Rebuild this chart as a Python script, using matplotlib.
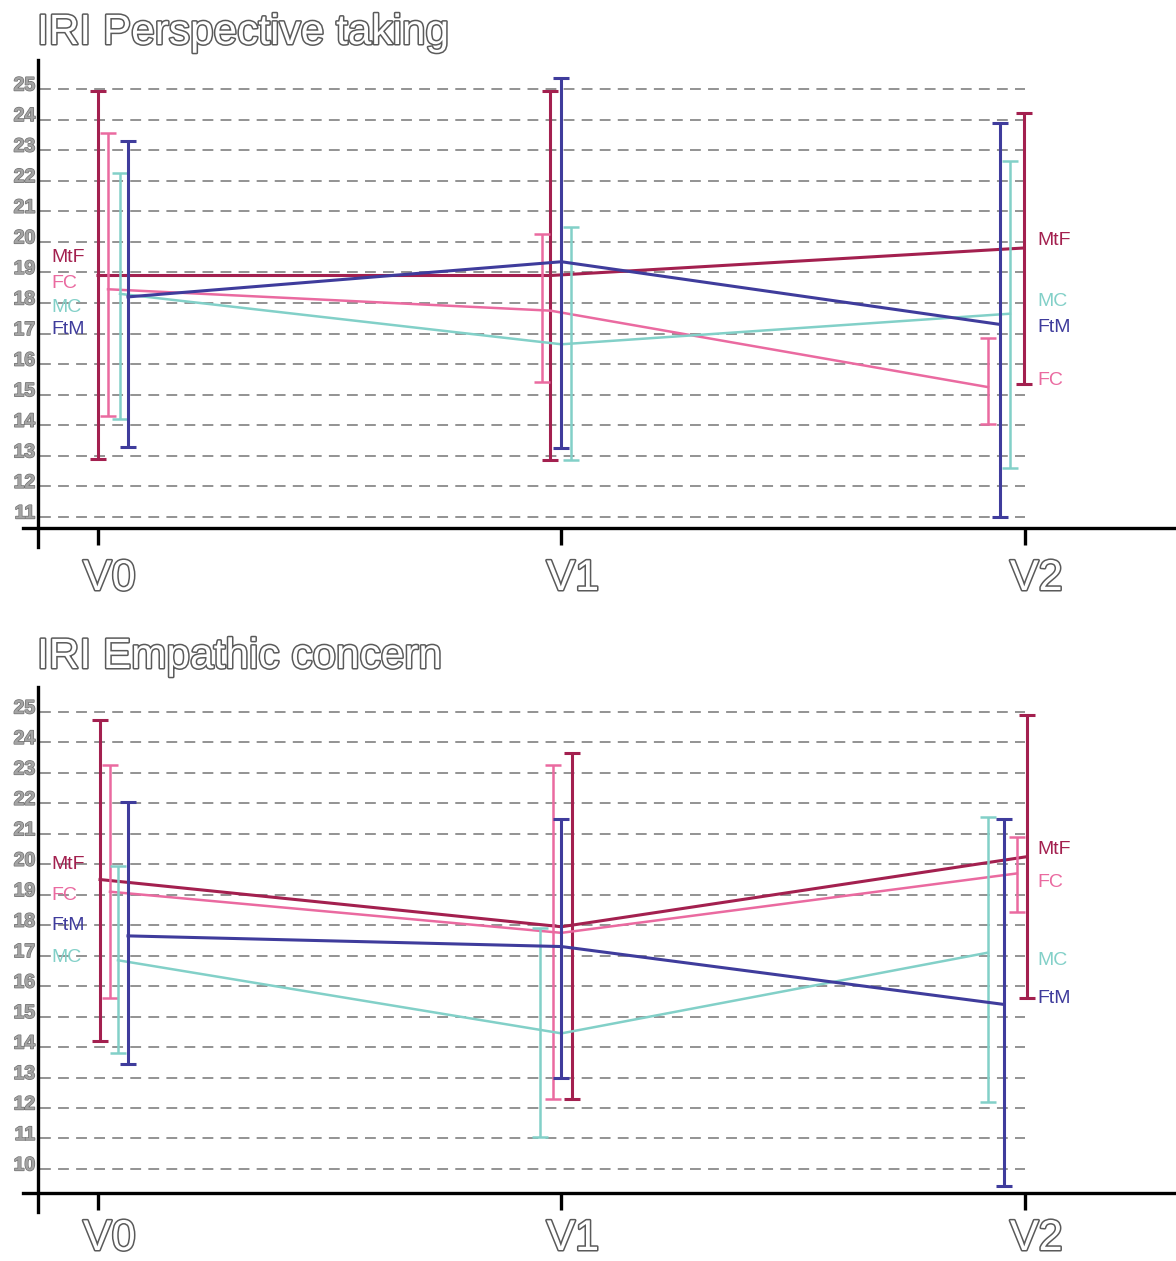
import matplotlib
matplotlib.use("Agg")
import matplotlib.pyplot as plt
import matplotlib.patheffects as pe
import matplotlib.transforms as mtransforms
import numpy as np

plt.rcParams['font.family'] = ['Liberation Sans', 'DejaVu Sans']

# ---- data ----
visits = ['V0', 'V1', 'V2']
groups = ['MtF', 'FC', 'MC', 'FtM']
colors = {'MtF': '#a3204f', 'FC': '#ea6aa0', 'MC': '#82d0c8', 'FtM': '#3f3c9c'}

# IRI Perspective taking
pt_mean = {'MtF': [18.9, 18.9, 19.8], 'FC': [18.45, 17.75, 15.25],
           'MC': [18.3, 16.65, 17.65], 'FtM': [18.2, 19.35, 17.3]}
pt_low = {'MtF': [12.9, 12.85, 15.35], 'FC': [14.3, 15.4, 14.05],
          'MC': [14.2, 12.85, 12.6], 'FtM': [13.3, 13.25, 11.0]}
pt_high = {'MtF': [24.95, 24.95, 24.2], 'FC': [23.55, 20.25, 16.85],
           'MC': [22.25, 20.5, 22.65], 'FtM': [23.3, 25.35, 23.9]}

# IRI Empathic concern
ec_mean = {'MtF': [19.5, 17.95, 20.25], 'FC': [19.1, 17.75, 19.7],
           'MC': [16.85, 14.45, 17.1], 'FtM': [17.65, 17.3, 15.4]}
ec_low = {'MtF': [14.2, 12.3, 15.6], 'FC': [15.6, 12.3, 18.45],
          'MC': [13.8, 11.05, 12.2], 'FtM': [13.45, 13.0, 9.45]}
ec_high = {'MtF': [24.75, 23.65, 24.9], 'FC': [23.25, 23.25, 20.9],
           'MC': [19.95, 17.9, 21.55], 'FtM': [22.05, 21.5, 21.5]}

pt_ticks = list(range(11, 26))
ec_ticks = list(range(10, 26))

# ---- layout (pixel dodges per visit, label positions) ----
PX = 1 / 463.5   # data units per pixel on x
pt_bar_dx = {'MtF': [0, -11, -1], 'FC': [10, -19, -37], 'MC': [22, 10, -15], 'FtM': [30, 0, -25]}
pt_line_dx = {'MtF': [0, -11, -1], 'FC': [10, -11, -37], 'MC': [22, 0, -15], 'FtM': [30, 0, -25]}
ec_bar_dx = {'MtF': [2, 11, 2], 'FC': [12, -8, -8], 'MC': [20, -21, -37], 'FtM': [30, 0, -21]}
ec_line_dx = {'MtF': [2, 0, 2], 'FC': [12, 0, -8], 'MC': [20, 0, -37], 'FtM': [30, 0, -21]}

pt_left_lab = {'MtF': 19.5, 'FC': 18.65, 'MC': 17.85, 'FtM': 17.13}
pt_right_lab = {'MtF': 20.05, 'MC': 18.05, 'FtM': 17.2, 'FC': 15.47}
ec_left_lab = {'MtF': 19.98, 'FC': 18.96, 'FtM': 17.98, 'MC': 16.93}
ec_right_lab = {'MtF': 20.5, 'FC': 19.39, 'MC': 16.83, 'FtM': 15.58}

outline = [pe.withStroke(linewidth=2.2, foreground='#5a5a5a')]
tick_outline = [pe.withStroke(linewidth=1.0, foreground='#707070')]

fig = plt.figure(figsize=(11.76, 12.61), dpi=100)


def draw_panel(rect, title, title_y, mean, low, high, ticks, ylim,
               bar_dx, line_dx, left_lab, right_lab, vlab_drop):
    ax = fig.add_axes(rect)
    ax.set_xlim(-60 * PX, 2.326)
    ax.set_ylim(*ylim)
    for s in ax.spines.values():
        s.set_visible(False)

    # dashed grid
    ax.hlines(ticks, -0.125, 2.0, colors='#8a8a8a', linewidth=1.3,
              linestyles=(0, (6, 4)), zorder=1)

    x = np.arange(len(visits))
    for g in groups:
        bx = x + np.array(bar_dx[g]) * PX
        lx = x + np.array(line_dx[g]) * PX
        m = np.array(mean[g])
        lo = np.array(low[g])
        hi = np.array(high[g])
        lw = 2.2 if g in ('MtF', 'FtM') else 1.8
        ax.plot(lx, m, color=colors[g], linewidth=lw, zorder=3)
        ax.errorbar(bx, m, yerr=[m - lo, hi - m], fmt='none', ecolor=colors[g],
                    elinewidth=lw, capsize=5.5, capthick=lw, zorder=3)

    for g, yv in left_lab.items():
        ax.text(-0.1, yv, g, color=colors[g], fontsize=14, va='center',
                ha='left', zorder=4)
    for g, yv in right_lab.items():
        ax.text(2.026, yv, g, color=colors[g], fontsize=14, va='center',
                ha='left', zorder=4)

    # y tick labels
    ax.set_yticks(ticks)
    ax.set_yticklabels([str(t) for t in ticks], color='#a4a4a4',
                       fontsize=14, fontweight='bold')
    ax.tick_params(axis='y', length=0, pad=2)
    off = mtransforms.ScaledTranslation(0, 5 / 100, fig.dpi_scale_trans)
    for lab in ax.get_yticklabels():
        lab.set_transform(lab.get_transform() + off)
        lab.set_path_effects(tick_outline)

    # x ticks and outlined visit labels
    ax.set_xticks(x)
    ax.set_xticklabels([])
    ax.tick_params(axis='x', length=12, width=2.4, color='black')
    trans = mtransforms.blended_transform_factory(ax.transData, ax.transAxes)
    h_px = rect[3] * 1261
    for xi, v in zip(x, visits):
        ax.text(xi - 15 * PX, -vlab_drop / h_px, v, transform=trans, fontsize=31,
                color='white', ha='left', va='baseline', path_effects=outline,
                clip_on=False)

    # axis lines (cross style)
    ax.plot([0, 0], [-19 / h_px, 1], transform=ax.transAxes, color='black',
            linewidth=2.4, clip_on=False, zorder=5)
    ax.plot([-15 / 1138, 1], [0, 0], transform=ax.transAxes, color='black',
            linewidth=2.4, clip_on=False, zorder=5)

    fig.text(37 / 1176, title_y, title, fontsize=30.5, color='white',
             ha='left', va='baseline', path_effects=outline)
    return ax


draw_panel([38 / 1176, 1 - 528 / 1261, 1138 / 1176, 468 / 1261],
           'IRI Perspective taking', 1 - 44 / 1261,
           pt_mean, pt_low, pt_high, pt_ticks, (10.64, 25.95),
           pt_bar_dx, pt_line_dx, pt_left_lab, pt_right_lab, 62)

draw_panel([38 / 1176, 1 - 1193 / 1261, 1138 / 1176, 506 / 1261],
           'IRI Empathic concern', 1 - 668 / 1261,
           ec_mean, ec_low, ec_high, ec_ticks, (9.21, 25.82),
           ec_bar_dx, ec_line_dx, ec_left_lab, ec_right_lab, 57)

fig.savefig('out.png', dpi=100)
